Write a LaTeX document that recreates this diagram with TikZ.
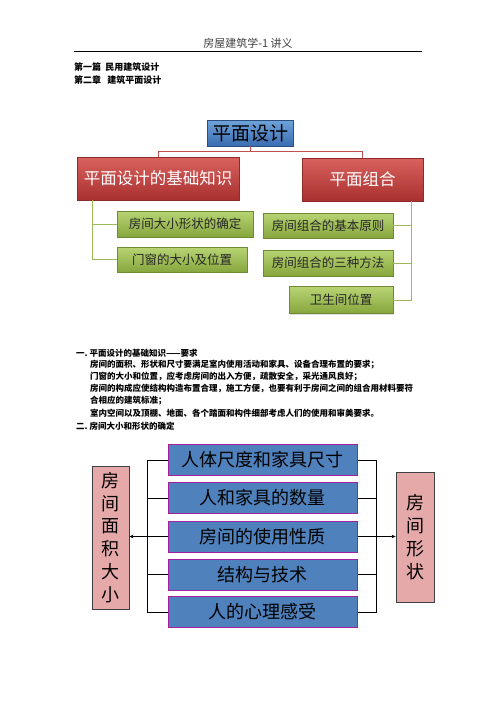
\documentclass[tikz,border=0pt]{standalone}
\usepackage{fontspec}
\setmainfont{Noto Sans CJK SC}
\usetikzlibrary{shadows,arrows.meta}
\definecolor{bTop}{HTML}{6FA3DB}
\definecolor{bBot}{HTML}{3A6DB0}
\definecolor{bDraw}{HTML}{2C4F80}
\definecolor{rTop}{HTML}{D9625F}
\definecolor{rBot}{HTML}{A8302E}
\definecolor{rDraw}{HTML}{8C2D2A}
\definecolor{gTop}{HTML}{B8D474}
\definecolor{gBot}{HTML}{86A63D}
\definecolor{gDraw}{HTML}{6F8A35}
\definecolor{redLine}{HTML}{C0504D}
\definecolor{greenLine}{HTML}{9BBB59}
\definecolor{blueFill}{HTML}{4F81BD}
\definecolor{purpleEdge}{HTML}{A020A0}
\definecolor{pinkFill}{HTML}{E6A9A9}
\begin{document}
\begin{tikzpicture}[x=1pt,y=-1pt,
  topbox/.style={draw=bDraw, top color=bTop, bottom color=bBot, text=black,
    inner sep=0pt, font=\fontsize{19}{19}\selectfont,
    drop shadow={opacity=0.25,shadow xshift=1pt,shadow yshift=-1pt}},
  redbox/.style={draw=rDraw, top color=rTop, bottom color=rBot, text=white,
    inner sep=0pt, font=\fontsize{16.5}{16.5}\selectfont,
    drop shadow={opacity=0.25,shadow xshift=1pt,shadow yshift=-1pt}},
  greenbox/.style={draw=gDraw, top color=gTop, bottom color=gBot, text=black!85,
    inner sep=0pt, font=\fontsize{12.5}{12.5}\selectfont,
    drop shadow={opacity=0.25,shadow xshift=1pt,shadow yshift=-1pt}},
  redconn/.style={draw=redLine, line width=1pt},
  greenconn/.style={draw=greenLine, line width=1pt},
  factor/.style={draw=purpleEdge, fill=blueFill, line width=1pt, inner sep=0pt,
    minimum width=189pt, minimum height=31pt, text=black,
    font=\fontsize{18}{18}\selectfont},
  pinkbox/.style={draw=black!75, fill=pinkFill, line width=0.8pt, inner sep=0pt,
    align=center, text=black, font=\fontsize{18}{22.8}\selectfont},
  blackconn/.style={draw=black, line width=0.9pt},
  body/.style={anchor=west, inner sep=0pt, font=\fontsize{8.5}{8.5}\selectfont\bfseries},
  heading/.style={anchor=west, inner sep=0pt, font=\fontsize{9}{9}\selectfont\bfseries}
]
\useasboundingbox (0,0) rectangle (496,702);
\fill[white] (0,0) rectangle (496,702);

% header
\node[inner sep=0pt, text=black!75, font=\fontsize{11}{11}\selectfont] (hdr) at (248,43) {房屋建筑学-1\ 讲义};
\coordinate (hl) at (74,51);
\coordinate (hr) at (422,51);
\draw[line width=0.9pt] (hl) -- (hr);
\node[heading] (h1) at (74,67) {第一篇\ \ 民用建筑设计};
\node[heading] (h2) at (74,80) {第二章\ \ \ 建筑平面设计};

% diagram 1
\node[topbox, minimum width=86pt, minimum height=26pt] (top) at (250,133) {平面设计};
\node[redbox, minimum width=162pt, minimum height=43pt] (L) at (158,178.5) {平面设计的基础知识};
\node[redbox, minimum width=121pt, minimum height=43pt] (R) at (362.5,179.5) {平面组合};
\node[greenbox, minimum width=136pt, minimum height=26pt] (g1) at (185,224) {房间大小形状的确定};
\node[greenbox, minimum width=130pt, minimum height=25pt] (g2) at (182,259.5) {门窗的大小及位置};
\node[greenbox, minimum width=130pt, minimum height=25pt] (r1) at (328,225.5) {房间组合的基本原则};
\node[greenbox, minimum width=130pt, minimum height=26pt] (r2) at (328,263) {房间组合的三种方法};
\node[greenbox, minimum width=104pt, minimum height=27pt] (r3) at (341,300) {卫生间位置};

\draw[redconn] (top.south) -- ++(0,5) coordinate (tj);
\draw[redconn] (tj) -| (L.north);
\draw[redconn] (tj) -| (R.north);
\draw[greenconn] ([xshift=16pt]L.south west) |- (g2.west);
\draw[greenconn] (g1.west) -| ([xshift=16pt]L.south west);
\draw[greenconn] ([xshift=-12pt]R.south east) |- (r3.east);
\draw[greenconn] (r1.east) -| ([xshift=-12pt]R.south east);
\draw[greenconn] (r2.east) -| ([xshift=-12pt]R.south east);

% text block
\node[body] (t1) at (76,353) {一.\ 平面设计的基础知识——要求};
\node[body] (t2) at (90,364.5) {房间的面积、形状和尺寸要满足室内使用活动和家具、设备合理布置的要求；};
\node[body] (t3) at (90,376.5) {门窗的大小和位置，应考虑房间的出入方便，疏散安全，采光通风良好；};
\node[body] (t4) at (90,388.5) {房间的构成应使结构构造布置合理，施工方便，也要有利于房间之间的组合用材料要符};
\node[body] (t5) at (90,401) {合相应的建筑标准；};
\node[body] (t6) at (90,413) {室内空间以及顶棚、地面、各个踏面和构件细部考虑人们的使用和审美要求。};
\node[body] (t7) at (76,426) {二.\ 房间大小和形状的确定};

% diagram 2
\node[pinkbox, minimum width=37pt, minimum height=143pt] (P1) at (110.5,537.5) {房\\间\\面\\积\\大\\小};
\node[pinkbox, minimum width=38pt, minimum height=130pt] (P2) at (415,537) {房\\间\\形\\状};
\node[factor] (b1) at (262.5,460) {人体尺度和家具尺寸};
\node[factor] (b2) at (262.5,498) {人和家具的数量};
\node[factor] (b3) at (262.5,536.5) {房间的使用性质};
\node[factor] (b4) at (262.5,574.5) {结构与技术};
\node[factor] (b5) at (262.5,612) {人的心理感受};

\draw[blackconn] (b1.west) -- ++(-20,0) coordinate (lbus) |- (b5.west);
\draw[blackconn] (b2.west) -- (b2.west -| lbus);
\draw[blackconn] (b4.west) -- (b4.west -| lbus);
\draw[blackconn, -{Stealth[length=4pt,width=3.5pt]}] (b3.west) -- (P1.east |- b3.west);
\draw[blackconn] (b1.east) -- ++(19,0) coordinate (rbus) |- (b5.east);
\draw[blackconn] (b2.east) -- (b2.east -| rbus);
\draw[blackconn] (b4.east) -- (b4.east -| rbus);
\draw[blackconn, -{Stealth[length=4pt,width=3.5pt]}] (b3.east) -- (P2.west |- b3.east);
\end{tikzpicture}
\end{document}
